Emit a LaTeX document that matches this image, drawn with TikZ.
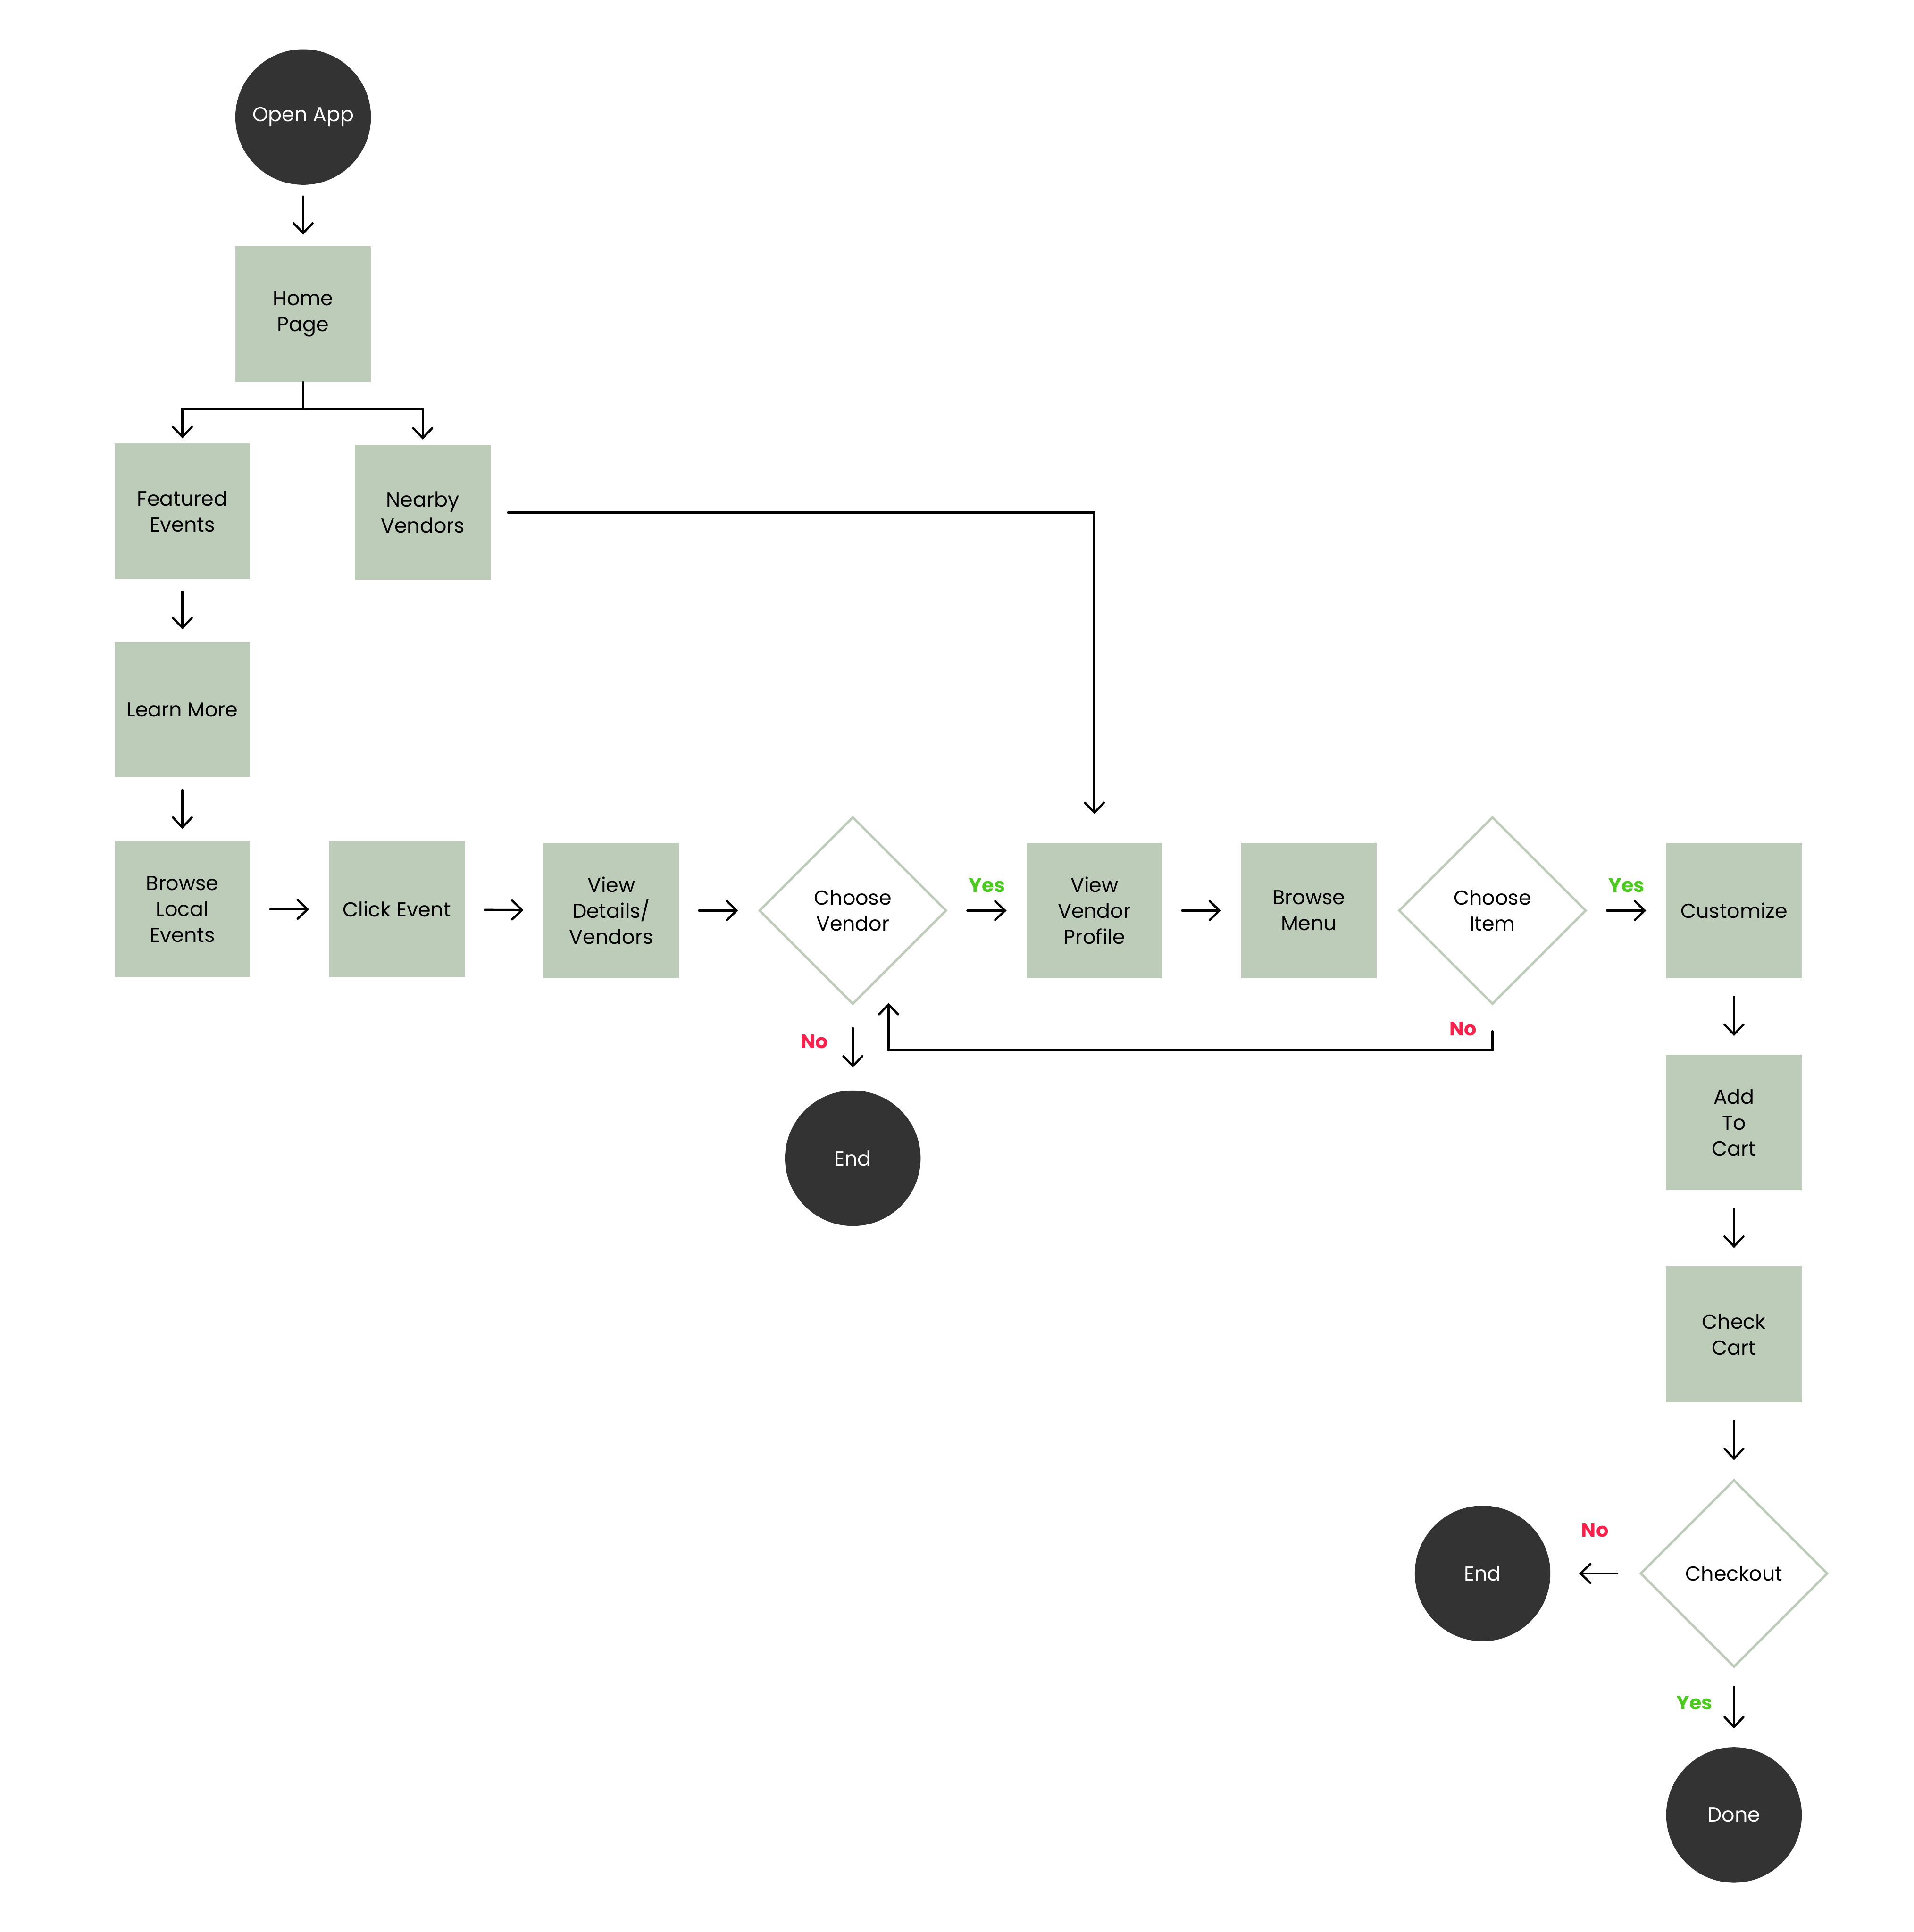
\documentclass[tikz,border=0pt]{standalone}
\usepackage{fontspec}
\setmainfont{Poppins}
\usepackage{xcolor}
\usepackage{tikz}
\usetikzlibrary{
    arrows.meta,
    positioning,
    shapes.geometric,
    calc
}
\definecolor{sage}{HTML}{BDCCB8}
\definecolor{darkfill}{HTML}{333333}
\definecolor{yesgreen}{HTML}{4CCB1F}
\definecolor{nored}{HTML}{FF1F4B}
\tikzset{
    stepbox/.style={
        rectangle, fill=sage, minimum width=33mm,
        minimum height=33mm, align=center, inner sep=1mm,
        font=\fontsize{14}{18}\selectfont
    },
    decision/.style={
        diamond, draw=sage, fill=white, line width=1.6pt,
        minimum width=45.6mm, minimum height=45.6mm,
        align=center, inner sep=0pt,
        font=\fontsize{14}{18}\selectfont
    },
    terminal/.style={
        circle, fill=darkfill, minimum size=33mm,
        text=white, align=center,
        font=\fontsize{14}{18}\selectfont
    },
    flow/.style={
        -{Straight Barb[length=2.4mm, width=4.6mm, line cap=round]},
        line width=1.5pt, line cap=round,
        shorten <=#1, shorten >=#1
    },
    flow/.default={4.8mm},
    yes label/.style={
        text=yesgreen, inner sep=0pt, font=\fontsize{13.5}{15}\selectfont\bfseries
    },
    no label/.style={
        text=nored, inner sep=0pt, font=\fontsize{13.5}{15}\selectfont\bfseries
    },
}

\begin{document}
\begin{tikzpicture}[x=0.3mm, y=-0.3mm]
    \path[fill=white, use as bounding box] (0,0) rectangle (1553,1568);

    % Entry and left column
    \node[terminal] (open) at (246,95) {Open App};
    \node[stepbox] (home) at (246,255) {Home\\Page};
    \node[stepbox] (feat) at (148,415) {Featured\\Events};
    \node[stepbox] (nearby) at (343,416) {Nearby\\Vendors};
    \node[stepbox] (learn) at (148,576) {Learn More};

    % Main row
    \node[stepbox] (browse) at (148,738) {Browse\\Local\\Events};
    \node[stepbox] (click) at (322,738) {Click Event};
    \node[stepbox] (details) at (496,739) {View\\Details/\\Vendors};
    \node[decision] (cvendor) at (692,739) {Choose\\Vendor};
    \node[stepbox] (profile) at (888,739) {View\\Vendor\\Profile};
    \node[stepbox] (menu) at (1062,739) {Browse\\Menu};
    \node[decision] (citem) at (1211,739) {Choose\\Item};
    \node[stepbox] (custom) at (1407,739) {Customize};

    % Right column
    \node[stepbox] (cart) at (1407,911) {Add\\To\\Cart};
    \node[stepbox] (check) at (1407,1083) {Check\\Cart};
    \node[decision] (checkout) at (1407,1277) {Checkout};

    % End points
    \node[terminal] (end1) at (692,940) {End};
    \node[terminal] (end2) at (1203,1277) {End};
    \node[terminal] (done) at (1407,1473) {Done};

    \draw[flow=2.8mm] (open) -- (home);
    \draw[flow=0mm, shorten >=1.2mm] (home.south) -- ++(0,22) -| (feat.north);
    \draw[flow=0mm, shorten >=1.2mm] (home.south) -- ++(0,22) -| (nearby.north);
    \draw[flow=3mm] (feat) -- (learn);
    \draw[flow=3mm] (learn) -- (browse);
    \draw[flow] (browse) -- (click);
    \draw[flow] (click) -- (details);
    \draw[flow] (details) -- (cvendor);
    \draw[flow] (cvendor) -- node[yes label, above=4.2mm] (yes1) {Yes} (profile);
    \draw[flow] (profile) -- (menu);
    \draw[flow] (citem) -- node[yes label, above=4.2mm] (yes2) {Yes} (custom);
    \draw[flow=0mm, shorten <=4.2mm, shorten >=6.9mm] (nearby.east) -| (profile.north);

    \draw[flow=5.5mm] (cvendor) -- node[no label, left=5.8mm, yshift=1.5mm] (no1) {No} (end1);
    \draw[flow=0mm, shorten <=6.3mm] (citem.south) -- ++(0,36) -| ([xshift=8.7mm, yshift=0.6mm]cvendor.south);
    \node[no label] (no2) at ([xshift=-7.2mm, yshift=-5.7mm]citem.south) {No};

    \draw[flow=4.5mm] (custom) -- (cart);
    \draw[flow=4.5mm] (cart) -- (check);
    \draw[flow=4.5mm] (check) -- (checkout);
    \draw[flow=0mm, shorten <=5.4mm, shorten >=6.9mm] (checkout) -- node[no label, above=8.6mm] (no3) {No} (end2);
    \draw[flow=4.5mm] (checkout) -- node[yes label, left=5mm, yshift=1.2mm] (yes3) {Yes} (done);
\end{tikzpicture}
\end{document}
